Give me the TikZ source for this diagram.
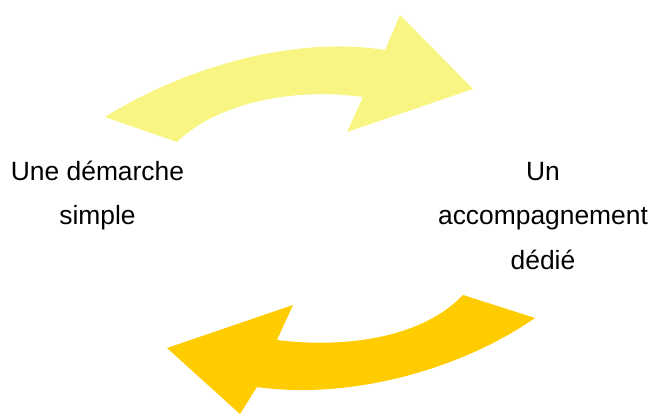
\documentclass[tikz,border=0pt]{standalone}
\usepackage{fontspec}
\setmainfont{Liberation Sans}
\definecolor{lightarrow}{HTML}{F8F582}
\definecolor{darkarrow}{HTML}{FFCC00}
\begin{document}
\begin{tikzpicture}[x=1pt,y=-1pt,
  lbl/.style={anchor=base,inner sep=0pt,font=\fontsize{26.4}{30}\selectfont}]
\useasboundingbox (0,0) rectangle (650,415);
% top arrow
\fill[lightarrow] (105,117) .. controls (180,70) and (290,35) .. (385,50)
  -- (400,15) -- (473,89) -- (347,132) -- (363,97)
  .. controls (300,88) and (220,100) .. (177,142) -- cycle;
% bottom arrow
\fill[darkarrow] (535,318) .. controls (460,370) and (350,400) .. (257,387)
  -- (240,414) -- (167,348) -- (293,305) -- (277,340)
  .. controls (340,348) and (420,340) .. (463,295) -- cycle;
% labels
\node[lbl] (l1) at (97.5,180) {Une démarche};
\node[lbl] (l2) at (97.5,224) {simple};
\node[lbl] (r1) at (543,180) {Un};
\node[lbl] (r2) at (543,224) {accompagnement};
\node[lbl] (r3) at (543,269) {dédié};
\end{tikzpicture}
\end{document}
